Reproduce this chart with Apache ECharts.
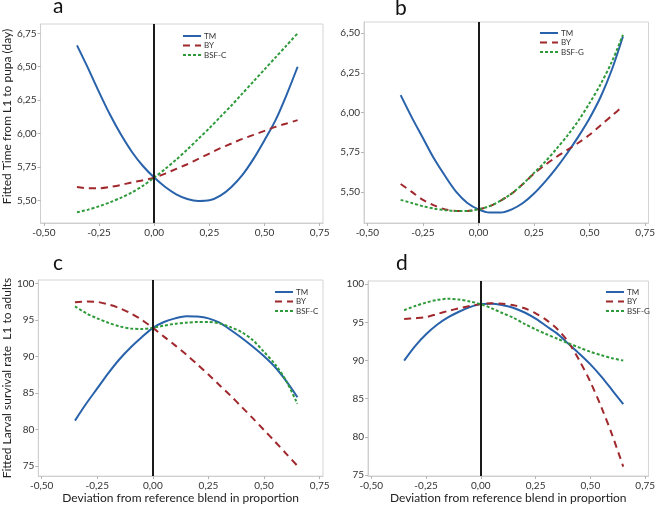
<!DOCTYPE html>
<html><head><meta charset="utf-8">
<script src="https://cdn.jsdelivr.net/npm/echarts@6/dist/echarts.min.js"></script>
<style>html,body{margin:0;padding:0;background:#fff}#c{width:658px;height:505px}</style>
</head><body><div id="c"></div><script>
const xs = [-0.35,-0.30,-0.25,-0.20,-0.15,-0.10,-0.05,0,0.05,0.10,0.15,0.20,0.25,0.30,0.35,0.40,0.45,0.50,0.55,0.60,0.65];

const aTM  = [6.66,6.49,6.31,6.14,5.99,5.86,5.755,5.67,5.60,5.545,5.51,5.495,5.50,5.535,5.60,5.69,5.81,5.95,6.10,6.29,6.50];
const aBY  = [5.60,5.59,5.59,5.60,5.615,5.635,5.65,5.67,5.70,5.735,5.77,5.81,5.85,5.89,5.925,5.96,5.99,6.02,6.05,6.075,6.10];
const aBSF = [5.41,5.43,5.455,5.485,5.52,5.56,5.61,5.67,5.735,5.805,5.88,5.96,6.04,6.125,6.21,6.30,6.39,6.48,6.57,6.66,6.75];

const bTM  = [6.11,5.97,5.84,5.71,5.60,5.50,5.43,5.39,5.37,5.37,5.39,5.43,5.49,5.565,5.65,5.745,5.85,5.965,6.10,6.27,6.48];
const bBY  = [5.55,5.50,5.45,5.415,5.39,5.38,5.38,5.39,5.41,5.445,5.49,5.55,5.615,5.67,5.72,5.765,5.81,5.86,5.92,5.98,6.04];
const bBSF = [5.45,5.43,5.41,5.395,5.385,5.38,5.38,5.39,5.41,5.445,5.49,5.55,5.62,5.69,5.77,5.855,5.95,6.06,6.18,6.32,6.49];

const cTM  = [81.2,83.5,85.6,87.7,89.6,91.2,92.6,93.9,94.7,95.2,95.5,95.45,95.2,94.6,93.6,92.5,91.3,90.0,88.5,86.6,84.4];
const cBY  = [97.4,97.5,97.45,97.1,96.6,95.9,95.0,93.9,92.7,91.5,90.25,88.9,87.5,86.05,84.6,83.05,81.5,79.9,78.3,76.65,75.0];
const cBSF = [96.85,95.9,95.2,94.6,94.1,93.8,93.75,93.9,94.2,94.45,94.6,94.7,94.7,94.5,94.0,93.3,92.2,90.6,88.9,86.6,83.5];

const dTM  = [90.0,91.9,93.45,94.7,95.65,96.4,97.0,97.4,97.45,97.25,96.9,96.3,95.5,94.5,93.5,92.2,90.9,89.5,87.9,86.1,84.3];
const dBY  = [95.45,95.55,95.7,96.1,96.5,96.85,97.15,97.4,97.5,97.45,97.25,96.85,96.2,95.3,94.1,92.4,90.0,87.2,83.9,80.2,76.1];
const dBSF = [96.6,97.15,97.6,97.95,98.1,98.0,97.75,97.4,96.85,96.2,95.6,94.8,94.1,93.45,92.85,92.25,91.7,91.15,90.7,90.3,90.0];

const xTicks  = [-0.5,-0.25,0,0.25,0.5,0.75];
const yTicksA = [5.5,5.75,6,6.25,6.5,6.75];
const yTicksB = [5.5,5.75,6,6.25,6.5];
const yTicksC = [75,80,85,90,95,100];
const yTicksD = [75,80,85,90,95,100];

const panelLabels = ['a','b','c','d'];
const yTitleA = 'Fitted Time from L1 to pupa (day)';
const yTitleC = 'Fitted Larval survival rate  L1 to adults';
const xTitle = 'Deviation from reference blend in proportion';
const legendA = ['TM','BY','BSF-C'];
const legendB = ['TM','BY','BSF-G'];

const FONT = 'Lato';
const comma2 = v => v.toFixed(2).replace('.', ',');
const int0 = v => String(Math.round(v));

const grids = [
  {left:33, top:24, width:290, height:199},
  {left:364, top:22, width:290, height:201},
  {left:33, top:280, width:290, height:199},
  {left:368, top:281, width:287, height:195}
].map(g => Object.assign(g, {show:true, borderColor:'#d4d4d4', borderWidth:1, backgroundColor:'#fff'}));

function xAx(i, name) {
  return {
    type:'value', gridIndex:i, min:-0.515, max:0.765,
    axisLine:{show:true, onZero:false, lineStyle:{color:'#cfcfcf'}},
    axisTick:{show:true, customValues:xTicks, length:3, lineStyle:{color:'#b5b5b5'}},
    axisLabel:{customValues:xTicks, formatter:comma2, fontSize:10, color:'#333', margin:5, fontFamily:FONT},
    splitLine:{show:false},
    name: name || '', nameLocation:'middle', nameGap:13,
    nameTextStyle:{fontSize:12, color:'#222', fontFamily:FONT, verticalAlign:'top'}
  };
}
function yAx(i, min, max, ticks, fmt, name, gap, pad) {
  return {
    type:'value', gridIndex:i, min:min, max:max,
    axisLine:{show:true, onZero:false, lineStyle:{color:'#cfcfcf'}},
    axisTick:{show:true, customValues:ticks, length:3, lineStyle:{color:'#b5b5b5'}},
    axisLabel:{customValues:ticks, formatter:fmt, fontSize:10, color:'#333', margin:4, fontFamily:FONT},
    splitLine:{show:false},
    name: name || '', nameLocation:'middle', nameGap:gap || 20,
    nameTextStyle:{fontSize:12, color:'#222', fontFamily:FONT, padding: pad || 0}
  };
}

const styles = {
  'TM':   {color:'#2862aa', type:'solid'},
  'BY':   {color:'#a0282c', type:[7,5]},
  'BSF-C':{color:'#2f9a3a', type:[3,2]},
  'BSF-G':{color:'#2f9a3a', type:[3,2]}
};
function ser(name, vals, i, zeroLine) {
  const st = styles[name];
  const s = {
    type:'line', name:name, xAxisIndex:i, yAxisIndex:i,
    data: xs.map((x,k) => [x, vals[k]]),
    symbol:'none', smooth:0.3, silent:true,
    lineStyle:{color:st.color, width:2, type:st.type},
    itemStyle:{color:st.color},
    z: name === 'TM' ? 3 : 4
  };
  if (zeroLine) {
    s.markLine = {silent:true, symbol:'none', label:{show:false}, animation:false,
      lineStyle:{color:'#1a1a1a', width:2, type:'solid'}, data:[{xAxis:0}]};
  }
  return s;
}

function leg(names, left, top) {
  return {
    data: names.map(n => ({name:n, lineStyle:{color:styles[n].color, width:2, type:styles[n].type}})),
    orient:'vertical', left:left, top:top, itemWidth:18, itemHeight:8, itemGap:1.5,
    itemStyle:{opacity:0},
    selectedMode:false, padding:0,
    textStyle:{fontSize:8, color:'#333', fontFamily:FONT, padding:[0,0,0,-2]}
  };
}

const titleStyle = {fontSize:21, fontWeight:'normal', color:'#111', fontFamily:FONT};
const option = {
  animation:false,
  backgroundColor:'#fff',
  title:[
    {text:panelLabels[0], left:53, top:-4, padding:0, textStyle:titleStyle},
    {text:panelLabels[1], left:395, top:-2, padding:0, textStyle:titleStyle},
    {text:panelLabels[2], left:53, top:253, padding:0, textStyle:titleStyle},
    {text:panelLabels[3], left:396, top:253, padding:0, textStyle:titleStyle}
  ],
  legend:[
    leg(legendA, 182, 32),
    leg(legendB, 539, 29),
    leg(legendA, 274, 288),
    leg(legendB, 605, 288)
  ],
  grid: grids,
  xAxis:[xAx(0), xAx(1), xAx(2, xTitle), xAx(3, xTitle)],
  yAxis:[
    yAx(0, 5.33, 6.82, yTicksA, comma2, yTitleA, 21, [0,0,0,14]),
    yAx(1, 5.304, 6.571, yTicksB, comma2),
    yAx(2, 73.6, 100.45, yTicksC, int0, yTitleC, 19),
    yAx(3, 74.87, 100.43, yTicksD, int0)
  ],
  series:[
    ser('TM', aTM, 0, true), ser('BY', aBY, 0), ser('BSF-C', aBSF, 0),
    ser('TM', bTM, 1, true), ser('BY', bBY, 1), ser('BSF-G', bBSF, 1),
    ser('TM', cTM, 2, true), ser('BY', cBY, 2), ser('BSF-C', cBSF, 2),
    ser('TM', dTM, 3, true), ser('BY', dBY, 3), ser('BSF-G', dBSF, 3)
  ]
};
const chart = echarts.init(document.getElementById('c'), null, {renderer:'canvas'});
chart.setOption(option);
</script></body></html>
